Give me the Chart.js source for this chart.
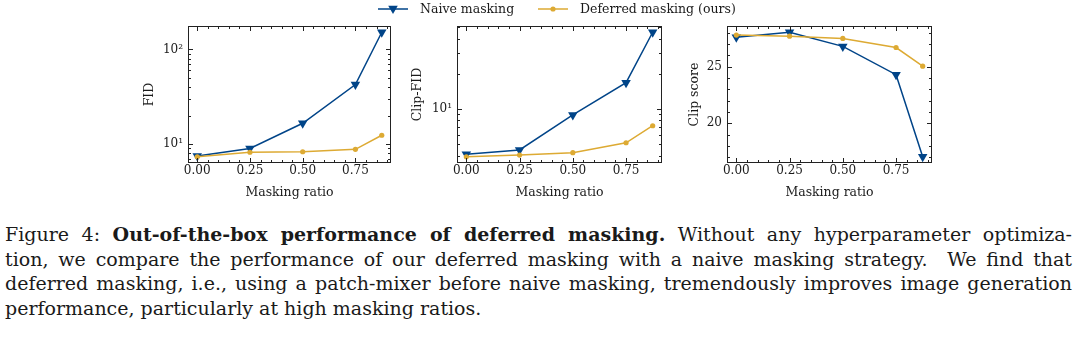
<!DOCTYPE html>
<html>
<head>
<meta charset="utf-8">
<script src="https://cdn.jsdelivr.net/npm/chart.js@4.4.1/dist/chart.umd.min.js"></script>
<style>
  body { margin: 0; width: 1080px; height: 338px; background: #fff; overflow: hidden; position: relative;
         font-family: "DejaVu Serif", serif; color: #1a1a1a; }
  canvas { position: absolute; top: 0; }
  .leg { position: absolute; top: 0; height: 18px; line-height: 18px; font-size: 12.5px; white-space: nowrap; }
  .legsvg { position: absolute; top: 0; }
  #cap { position: absolute; left: 5px; top: 222px; width: 1067px; font-size: 19px; line-height: 24.6px; }
  #cap .j { text-align: justify; text-align-last: justify; white-space: nowrap; }
  #cap .l { text-align: left; white-space: nowrap; }
</style>
</head>
<body>
<canvas id="fid" width="280" height="205" style="left:120px"></canvas>
<canvas id="clipfid" width="270" height="205" style="left:400px"></canvas>
<canvas id="clipscore" width="270" height="205" style="left:670px"></canvas>

<svg class="legsvg" style="left:376px" width="34" height="18">
  <line x1="2" y1="9" x2="32" y2="9" stroke="#004488" stroke-width="1.5"/>
  <polygon points="12.2,5.8 21.8,5.8 17,14" fill="#004488"/>
</svg>
<div class="leg" style="left:420px">Naive masking</div>
<svg class="legsvg" style="left:536px" width="34" height="18">
  <line x1="2" y1="9" x2="32" y2="9" stroke="#DDAA33" stroke-width="1.5"/>
  <circle cx="17" cy="9" r="2.6" fill="#DDAA33"/>
</svg>
<div class="leg" style="left:580px">Deferred masking (ours)</div>

<div id="cap">
  <div class="j">Figure 4: <b>Out-of-the-box performance of deferred masking.</b> Without any hyperparameter optimiza-</div>
  <div class="j">tion, we compare the performance of our deferred masking with a naive masking strategy. &nbsp;We find that</div>
  <div class="j">deferred masking, i.e., using a patch-mixer before naive masking, tremendously improves image generation</div>
  <div class="l">performance, particularly at high masking ratios.</div>
</div>

<script>
// values
const ratios = [0, 0.25, 0.5, 0.75, 0.875];
const xTicks = [0, 0.25, 0.5, 0.75];

const fidNaive = [7.5, 9.0, 16.6, 42.6, 152];
const fidDeferred = [7.35, 8.2, 8.3, 8.8, 12.4];

const clipFidNaive = [4.1, 4.47, 8.9, 16.8, 45.3];
const clipFidDeferred = [3.91, 4.04, 4.24, 5.15, 7.2];

const clipNaive = [27.6, 28.05, 26.8, 24.3, 17.05];
const clipDeferred = [27.8, 27.7, 27.5, 26.7, 25.05];

const fidTicks = [10, 100], fidLabels = ['10¹', '10²'];
const clipFidTicks = [10], clipFidLabels = ['10¹'];
const clipTicks = [20, 25], clipLabels = ['20', '25'];

const BLUE = '#004488', YELLOW = '#DDAA33';

Chart.defaults.font.family = '"DejaVu Serif", serif';
Chart.defaults.color = '#1a1a1a';

// matplotlib style 5% margins
function limits(vals, log) {
  const t = log ? vals.map(Math.log10) : vals;
  const lo = Math.min(...t), hi = Math.max(...t), m = (hi - lo) * 0.05;
  return log ? [10 ** (lo - m), 10 ** (hi + m)] : [lo - m, hi + m];
}

// box around the axes with inward ticks on every side
const frame = {
  id: 'frame',
  afterDatasetsDraw(chart, args, o) {
    const { ctx, chartArea: a, scales: { x, y } } = chart;
    ctx.save();
    ctx.strokeStyle = '#222';
    ctx.lineWidth = 1;
    ctx.strokeRect(Math.round(a.left) + 0.5, Math.round(a.top) + 0.5,
                   Math.round(a.right - a.left) - 1, Math.round(a.bottom - a.top) - 1);
    const near = (v, list) => list.some(t => Math.abs(t - v) < 1e-9 * Math.max(1, Math.abs(t)));

    const xMaj = x.ticks.map(t => t.value), xMin = [];
    for (let v = Math.ceil(x.min / 0.05) * 0.05; v <= x.max; v += 0.05) {
      const r = Math.round(v * 100) / 100;
      if (!near(r, xMaj)) xMin.push(r);
    }
    const yMaj = y.ticks.map(t => t.value), yMin = [];
    if (y.type === 'logarithmic') {
      for (let k = Math.floor(Math.log10(y.min)); k <= Math.ceil(Math.log10(y.max)); k++)
        for (let m = 2; m <= 9; m++) {
          const v = m * 10 ** k;
          if (v >= y.min && v <= y.max) yMin.push(v);
        }
    } else {
      for (let v = Math.ceil(y.min); v <= y.max; v += o.yMinor) if (!near(v, yMaj)) yMin.push(v);
    }

    ctx.beginPath();
    const xt = (vals, len) => vals.forEach(v => {
      const p = Math.round(x.getPixelForValue(v)) + 0.5;
      ctx.moveTo(p, a.bottom); ctx.lineTo(p, a.bottom - len);
      ctx.moveTo(p, a.top); ctx.lineTo(p, a.top + len);
    });
    const yt = (vals, len) => vals.forEach(v => {
      const p = Math.round(y.getPixelForValue(v)) + 0.5;
      ctx.moveTo(a.left, p); ctx.lineTo(a.left + len, p);
      ctx.moveTo(a.right, p); ctx.lineTo(a.right - len, p);
    });
    xt(xMaj, 5); xt(xMin, 3);
    yt(yMaj, 5); yt(yMin, 3);
    ctx.stroke();
    ctx.restore();
  }
};

function panel(id, p) {
  const [ymin, ymax] = limits(p.naive.concat(p.deferred), p.log);
  const [xmin, xmax] = limits(ratios, false);
  return new Chart(document.getElementById(id), {
    type: 'line',
    data: {
      datasets: [
        { label: 'Naive masking', data: ratios.map((x, i) => ({ x, y: p.naive[i] })),
          borderColor: BLUE, backgroundColor: BLUE, borderWidth: 1.5,
          pointStyle: 'triangle', rotation: 180, pointRadius: 5.5, pointHoverRadius: 5.5,
          pointBorderWidth: 0, order: 1, clip: false },
        { label: 'Deferred masking (ours)', data: ratios.map((x, i) => ({ x, y: p.deferred[i] })),
          borderColor: YELLOW, backgroundColor: YELLOW, borderWidth: 1.5,
          pointStyle: 'circle', pointRadius: 2.6, pointHoverRadius: 2.6,
          pointBorderWidth: 0, order: 0, clip: false }
      ]
    },
    options: {
      responsive: false,
      animation: false,
      layout: { padding: { top: 26, right: p.right, left: 0, bottom: 0 } },
      plugins: { legend: { display: false }, tooltip: { enabled: false }, frame: { yMinor: 1 } },
      scales: {
        x: {
          type: 'linear', min: xmin, max: xmax,
          grid: { display: false, drawTicks: false }, border: { display: false },
          afterBuildTicks: s => { s.ticks = xTicks.map(v => ({ value: v })); },
          afterFit: s => { s.height = 42; },
          ticks: { padding: 1, font: { size: 12 }, maxRotation: 0, autoSkip: false,
                   callback: v => v.toFixed(2) },
          title: { display: true, text: 'Masking ratio', font: { size: 12.5 }, padding: { top: 0, bottom: 5 } }
        },
        y: {
          type: p.log ? 'logarithmic' : 'linear', min: ymin, max: ymax,
          grid: { display: false, drawTicks: false }, border: { display: false },
          afterBuildTicks: s => { s.ticks = p.ticks.map(v => ({ value: v })); },
          afterFit: s => { s.width = p.axisW; },
          ticks: { padding: 5, font: { size: 12 }, autoSkip: false, callback: (v, i) => p.labels[i] },
          title: { display: true, text: p.title, font: { size: 12.5 }, padding: { top: p.titlePad, bottom: 0 } }
        }
      }
    },
    plugins: [frame]
  });
}

panel('fid', { naive: fidNaive, deferred: fidDeferred, log: true, ticks: fidTicks, labels: fidLabels,
               title: 'FID', axisW: 68, right: 9, titlePad: 22 });
panel('clipfid', { naive: clipFidNaive, deferred: clipFidDeferred, log: true, ticks: clipFidTicks, labels: clipFidLabels,
                   title: 'Clip-FID', axisW: 57, right: 8, titlePad: 10 });
panel('clipscore', { naive: clipNaive, deferred: clipDeferred, log: false, ticks: clipTicks, labels: clipLabels,
                     title: 'Clip score', axisW: 57, right: 8, titlePad: 17 });
</script>
</body>
</html>
